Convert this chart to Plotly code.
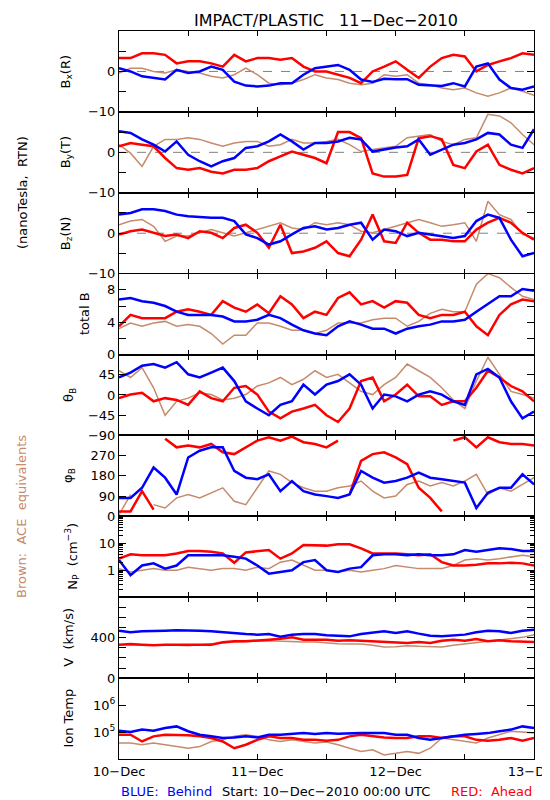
import plotly.graph_objects as go
from plotly.subplots import make_subplots

# ---------------- data (2-hourly estimates) ----------------
HOURS = [0, 2, 4, 6, 8, 10, 12, 14, 16, 18, 20, 22, 24, 26, 28, 30, 32, 34, 36,
         38, 40, 42, 44, 46, 48, 50, 52, 54, 56, 58, 60, 62, 64, 66, 68, 70, 72]

DAY_TICKS = [0, 12, 24, 36, 48, 60, 72]
DAY_LABELS = ["10\u2212Dec", "", "11\u2212Dec", "", "12\u2212Dec", "", "13\u2212Dec"]

BX_BEHIND = [0.8, 0, -1.2, -1.6, -2, 0.4, -0.4, 0, 1.2, 0.4, -2.5, -3.5, -3.7, -3.5, -2.9, -2.9, -0.8, 0.8, 1.2,
             1.6, 0.4, -2, -2.6, -1.8, -1.9, -1.9, -3.3, -3.4, -3.6, -2.9, -3.7, 1.2, 2, -2, -4.1, -4.5, -3.7]
BX_AHEAD = [3.3, 3.3, 4.5, 4.5, 4.1, 2, 2.5, 2.5, 2, 1.2, 4.1, 2.5, 3.3, 3.3, 2.9, 3.3, 1.2, 0, 0,
            -0.8, -1.6, -2.9, 0, 1.2, 2.5, 0.4, -1.6, 1.2, 3.3, 4.1, 3.7, 0, 1.6, 2.5, 3.3, 4.5, 4.1]
BX_ACE = [-0.4, 0.8, 0.8, 0, -0.4, 0.4, 0, -0.4, -1.2, -1.6, -0.8, 0.8, -0.8, -2.9, -3.3, -2.9, -2, -0.8, -1.6,
          -2, -2.9, -3.3, -2.9, -0.8, -1.2, -0.8, -2.9, -3.3, -4.1, -4.5, -4.1, -5.3, -6.1, -5.3, -4.1, -4.9, -5.9]

BY_BEHIND = [5.2, 4.8, 3.2, 1.9, 0.2, 2.7, -0.6, -2.2, -3.5, -2.2, -1.4, 1.1, 1.5, 2.7, 4.4, 2.7, 0.7, 2.3, 2.3,
             2.7, 3.6, 3.2, 0.2, 0.7, 1.2, 1.5, 3.2, -0.6, 0.7, 1.9, 2.3, 3.2, 4.8, 4.4, 1.9, 1.1, 5.7]
BY_AHEAD = [1.5, 2.3, 1.9, 1.5, -1.4, -3.9, -4.3, -3.9, -4.8, -5.2, -4.3, -4.3, -3.9, -2.2, -1, 0.2, -0.6, -1.4, -2.7,
            5, 5, 3.5, -5.2, -6, -6, -5.6, 3.5, 4, 3.2, -3.1, -3.9, 0.2, 1.9, -3.1, -4.3, -5.2, -3.9]
BY_ACE = [1.9, -0.2, -3.5, 1.5, 3.2, 3.2, 3.6, 3.2, 2.3, 1.5, 2.3, 2.7, 2.7, 1.5, 1.9, 3.2, 2.3, 2.3, 2.7,
          3.2, 1.9, 0.2, 0.7, 1.1, 1.5, 3.6, 4, 4.4, 2.7, 1.9, 3.2, 3.6, 9.4, 9, 7.3, 4.4, 1.9]

BZ_BEHIND = [4.6, 5, 5.9, 5.9, 5.5, 4.6, 4.2, 4, 3.8, 3.8, 3, -0.3, -1.2, -2.8, -2, -0.3, 1.3, 1.7, 0.9,
             1.3, 2.1, 2.6, -1.6, 0.9, 0.5, -0.7, 0.1, -0.3, -0.7, -1.2, -0.7, 3, 4.6, 3.8, -1.6, -5.7, -4.9]
BZ_AHEAD = [-0.3, 0.5, 0.9, 0.1, -0.7, -0.3, -1.2, 0.5, 0.1, -1.2, 1.3, 2.1, 0.1, -3.6, 2.1, -4.9, -4.5, -3.6, -2,
            -4.9, -5.7, -1.6, 4.6, -2, -2.4, 2.6, 0.1, -1.6, -1.6, -2, -2, 0.9, 2.6, 3.8, 2.6, 0.1, -1.6]
BZ_ACE = [2.1, 3, 3.4, 1.7, -2, -0.7, -0.7, 0.1, 0.9, 0.1, -0.7, 0.1, 0.9, 1.7, 2.6, 1.3, 0.9, 2.6, 2.1,
          2.6, 2.1, 0.5, 0.1, 0.9, 1.7, 2.6, 3.4, 2.6, 1.7, 2.1, 2.6, -2, 7.9, 4.6, 3.4, -0.3, -1.2]

BT_BEHIND = [6.8, 7, 6.6, 6.4, 6, 5.3, 4.9, 4.9, 4.9, 4.7, 4.1, 4.1, 4.3, 4.9, 4.5, 3.7, 3, 2.6, 2.4,
             3.5, 4.1, 3.7, 3.2, 3.2, 2.6, 3.2, 3.5, 3.7, 4.1, 4.1, 4.3, 5.3, 6.2, 7.2, 7.2, 8.1, 7.9]
BT_AHEAD = [3.5, 4.9, 4.5, 4.5, 4.5, 5.3, 5.6, 5.3, 4.9, 6.6, 5.8, 5.3, 6.2, 5.1, 7.2, 6.2, 4.5, 5.3, 4.9,
            7, 7.7, 6.2, 6.6, 5.8, 6.6, 6.4, 4.9, 4.5, 4.9, 4.9, 5.3, 3.5, 2.4, 4.9, 6.2, 6.8, 6.6]
BT_ACE = [3.2, 3.9, 3.5, 3.9, 4.1, 3.5, 3.7, 3.5, 2.6, 1.3, 2.4, 2.4, 3.9, 3.9, 3.5, 3, 3, 2.6, 3,
          3.9, 3.9, 3.9, 4.3, 4.5, 4.5, 3.5, 4.1, 5.1, 5.6, 5.3, 5.3, 8.7, 10, 9.5, 8.3, 7.2, 6.8]

THETA_BEHIND = [39, 50, 65, 69, 61, 73, 46, 39, 50, 61, 31, -14, -30, -45, -22, -14, 23, 1, 23,
                31, 46, 23, -30, 1, -3, -14, 1, 8, 1, -14, -22, 46, 58, 39, -14, -52, -37]
THETA_AHEAD = [-7, 1, 5, -14, -7, -11, -22, 8, -7, -14, 16, 20, 1, -37, -52, -37, -30, -22, -45,
               -60, -30, 31, 39, -14, 1, 23, -3, -3, -22, -14, -14, 16, 54, 39, 20, 8, -14]
THETA_ACE = [54, 39, 61, 16, -45, -14, -7, 5, 1, -11, -7, 1, 20, 27, 39, 23, 35, 54, 39,
             46, 27, 8, 1, 23, 39, 69, 54, 39, 16, -11, -30, 31, 84, 46, 8, 1, -7]

PHI_BEHIND = [82, 82, 127, 217, 172, 97, 262, 292, 307, 307, 202, 172, 165, 187, 112, 157, 112, 97, 90,
              82, 97, 202, 172, 150, 157, 172, 195, 172, 165, 157, 150, 37, 105, 127, 127, 187, 142]
PHI_AHEAD = [22, 22, 112, 30, 345, 307, 315, 307, 322, 285, 277, 307, 337, 352, 337, 355, 330, 322, 307,
             337, 97, 247, 277, 285, 262, 232, 127, 82, 22, 337, 352, 307, 352, 330, 322, 322, 315]
PHI_ACE = [7, 97, 300, 52, 37, 82, 97, 82, 105, 127, 67, 52, 127, 202, 187, 150, 127, 112, 112,
           127, 135, 157, 112, 82, 90, 142, 157, 135, 150, 135, 157, 187, 97, 127, 112, 142, 172]

NP_BEHIND = [2.4, 0.65, 1.5, 1.8, 1.15, 1.5, 3.6, 3.6, 3.6, 3.6, 3.2, 2.7, 1.5, 0.75, 0.87, 1, 2, 2.4, 1,
             0.87, 1.15, 1.3, 3.6, 3.9, 3.9, 3.6, 3.9, 3.6, 3.6, 3.9, 5.6, 4.9, 5.6, 6.5, 6.1, 5.2, 5.2]
NP_AHEAD = [2.7, 3.9, 3.6, 3.6, 3.6, 4.2, 5.2, 5.2, 4.9, 4.2, 1.9, 4.6, 5.2, 5.6, 2.7, 4.2, 8.7, 8.7, 8.2,
            9.2, 9.2, 6.5, 4.2, 4.2, 4.2, 3.9, 3.6, 3.9, 2, 1.5, 1.5, 1.6, 1.8, 1.8, 1.9, 1.8, 1.5]
NP_ACE = [1.15, 0.87, 1, 1.15, 1, 1, 1.3, 1.15, 1, 1.15, 1.15, 1, 1.3, 1.15, 2, 2.4, 1.5, 1, 1,
          0.87, 1, 0.87, 1, 1.15, 1.5, 1.3, 1.15, 1.15, 1.15, 1.5, 2.4, 2.7, 2.4, 2.7, 3.2, 3.6, 3.2]

V_BEHIND = [469, 453, 463, 463, 469, 473, 473, 469, 463, 453, 440, 436, 430, 436, 410, 430, 436, 436, 423,
            417, 413, 436, 453, 463, 446, 463, 440, 420, 413, 420, 430, 453, 469, 463, 446, 469, 479]
V_AHEAD = [331, 337, 331, 324, 331, 331, 337, 337, 331, 354, 364, 364, 370, 380, 390, 403, 380, 380, 380,
           370, 374, 370, 364, 357, 357, 347, 357, 347, 370, 380, 370, 387, 364, 374, 364, 357, 357]
V_ACE = [331, 324, 324, 324, 331, 324, 321, 331, 337, 347, 357, 364, 364, 370, 364, 364, 357, 357, 347,
         340, 337, 337, 324, 307, 311, 321, 314, 314, 307, 324, 337, 357, 364, 380, 390, 403, 430]

T_BEHIND = [112000, 100000, 123000, 112000, 141000, 162000, 107000, 79400, 69200, 60300, 63100, 69200, 63100,
            79400, 79400, 85100, 91200, 85100, 91200, 87100, 91200, 91200, 91200, 91200, 79400, 79400, 60300,
            51300, 60300, 69200, 79400, 85100, 91200, 107000, 123000, 162000, 141000]
T_AHEAD = [79400, 79400, 44700, 69200, 79400, 79400, 75900, 69200, 60300, 44700, 25100, 33900, 51300,
           69200, 60300, 60300, 51300, 51300, 47900, 51300, 69200, 79400, 69200, 63100, 60300, 60300, 69200,
           69200, 60300, 69200, 69200, 51300, 47900, 51300, 60300, 47900, 60300]
T_ACE = [38900, 38900, 33900, 38900, 33900, 28800, 25100, 28800, 44700, 51300, 69200, 79400, 69200,
         51300, 44700, 51300, 44700, 38900, 42700, 33900, 25100, 19100, 21900, 14100, 16200, 19100, 16200,
         25100, 60300, 51300, 44700, 38900, 60300, 79400, 107000, 100000, 91200]

# ---------------- styling ----------------
BLUE = "#0000ff"
RED = "#ff0000"
BROWN = "#c68a6c"
FONT = "DejaVu Sans"
MINUS = "\u2212"

W, H = 550, 800
L, R, T, B = 111, 24, 23, 49
PW = W - L - R
PH = H - T - B


def break_wraps(xs, ys, limit):
    """Split an angle series where it wraps around (jump larger than limit)."""
    ox, oy = [], []
    for k, (x, y) in enumerate(zip(xs, ys)):
        if k > 0 and abs(y - ys[k - 1]) > limit:
            ox.append(None)
            oy.append(None)
        ox.append(x)
        oy.append(y)
    return ox, oy


panels = [
    dict(title="B<sub>x</sub>(R)", ace=BX_ACE, ahead=BX_AHEAD, behind=BX_BEHIND, tx=58,
         y=dict(range=[-10, 10], tickvals=[-10, -5, 0, 5, 10], ticktext=[MINUS + "10", "", "0", "", ""]), zero=True),
    dict(title="B<sub>y</sub>(T)", ace=BY_ACE, ahead=BY_AHEAD, behind=BY_BEHIND, tx=58,
         y=dict(range=[-10, 10], tickvals=[-10, -5, 0, 5, 10], ticktext=[MINUS + "10", "", "0", "", ""]), zero=True),
    dict(title="B<sub>z</sub>(N)", ace=BZ_ACE, ahead=BZ_AHEAD, behind=BZ_BEHIND, tx=58,
         y=dict(range=[-10, 10], tickvals=[-10, -5, 0, 5, 10], ticktext=[MINUS + "10", "", "0", "", ""]), zero=True),
    dict(title="total B", ace=BT_ACE, ahead=BT_AHEAD, behind=BT_BEHIND, tx=76,
         y=dict(range=[0, 10], tickvals=[0, 2, 4, 6, 8, 10], ticktext=["0", "", "4", "", "8", ""]), zero=False),
    dict(title="\u03b8<sub>B</sub>", ace=THETA_ACE, ahead=THETA_AHEAD, behind=THETA_BEHIND, tx=61,
         y=dict(range=[-90, 90], tickvals=[-90, -45, 0, 45, 90],
                ticktext=[MINUS + "90", MINUS + "45", "0", "45", ""]), zero=False),
    dict(title="\u03c6<sub>B</sub>", ace=PHI_ACE, ahead=PHI_AHEAD, behind=PHI_BEHIND, tx=61, wrap=True,
         y=dict(range=[0, 360], tickvals=[0, 90, 180, 270, 360], ticktext=["0", "90", "180", "270", ""]), zero=False),
    dict(title="N<sub>P</sub>  (cm<sup>" + MINUS + "3</sup>)", ace=NP_ACE, ahead=NP_AHEAD, behind=NP_BEHIND, tx=64,
         y=dict(type="log", range=[-1, 2], tickvals=[0.1, 1, 10, 100], ticktext=["", "1", "10", ""],
                minor=dict(ticks="inside", ticklen=4, tickcolor="black",
                           tickvals=[0.2, 0.3, 0.4, 0.5, 0.6, 0.7, 0.8, 0.9, 2, 3, 4, 5, 6, 7, 8, 9,
                                     20, 30, 40, 50, 60, 70, 80, 90])), zero=False),
    dict(title="V  (km/s)", ace=V_ACE, ahead=V_AHEAD, behind=V_BEHIND, tx=61,
         y=dict(range=[0, 800], tickvals=[0, 100, 200, 300, 400, 500, 600, 700, 800],
                ticktext=["0", "", "", "", "400", "", "", "", ""]), zero=False),
    dict(title="Ion Temp", ace=T_ACE, ahead=T_AHEAD, behind=T_BEHIND, tx=61,
         y=dict(type="log", range=[4, 7], tickvals=[1e4, 1e5, 1e6, 1e7],
                ticktext=["", "10<sup>5</sup>", "10<sup>6</sup>", ""]), zero=False),
]

n = len(panels)
fig = make_subplots(rows=n, cols=1, shared_xaxes=True, vertical_spacing=0)

annotations = []
shapes = []
for i, p in enumerate(panels):
    row = i + 1
    for key, color, width in (("ace", BROWN, 1.5), ("ahead", RED, 2.5), ("behind", BLUE, 2.5)):
        xs, ys = HOURS, p[key]
        if p.get("wrap"):
            xs, ys = break_wraps(HOURS, p[key], 180)
        fig.add_trace(go.Scatter(x=xs, y=ys, mode="lines", connectgaps=False,
                                 line=dict(color=color, width=width), hoverinfo="skip"), row=row, col=1)

    yax = dict(ticks="inside", ticklen=7, tickwidth=1, tickcolor="black", showline=True,
               linecolor="black", linewidth=1, mirror="ticks", showgrid=False, zeroline=False,
               tickmode="array", tickfont=dict(family=FONT, size=13, color="black"), automargin=False)
    yax.update(p["y"])
    fig.update_yaxes(row=row, col=1, **yax)

    fig.update_xaxes(row=row, col=1, range=[0, 72], tickmode="array", tickvals=DAY_TICKS,
                     ticktext=DAY_LABELS, ticks="inside", ticklen=5, tickcolor="black",
                     showline=True, linecolor="black", linewidth=1, mirror="ticks",
                     showgrid=False, zeroline=False, showticklabels=(row == n),
                     ticklabeloverflow="allow",
                     tickfont=dict(family=FONT, size=13, color="black"), automargin=False)

    if p["zero"]:
        shapes.append(dict(type="line", xref="x" if row == 1 else "x%d" % row,
                           yref="y" if row == 1 else "y%d" % row,
                           x0=0, x1=72, y0=0, y1=0, layer="below",
                           line=dict(color="#808080", width=1, dash="dash")))

    annotations.append(dict(text=p["title"], xref="paper", yref="paper",
                            x=(p["tx"] - L) / PW, y=1 - (i + 0.5) / n, textangle=-90,
                            showarrow=False, xanchor="center", yanchor="middle",
                            font=dict(family=FONT, size=13, color="black")))


def px_x(px):
    return (px - L) / PW


def px_y(py):
    return 1 - (py - T) / PH


annotations += [
    dict(text="IMPACT/PLASTIC\u00a0\u00a0\u00a011\u2212Dec\u22122010", xref="paper", yref="paper",
         x=px_x(318), y=px_y(12), showarrow=False, xanchor="center", yanchor="middle",
         font=dict(family=FONT, size=16, color="black")),
    dict(text="(nanoTesla,\u00a0\u00a0RTN)", xref="paper", yref="paper",
         x=px_x(14), y=px_y(185), textangle=-90, showarrow=False, xanchor="center", yanchor="middle",
         font=dict(family=FONT, size=13, color="black")),
    dict(text="Brown:\u00a0\u00a0ACE\u00a0\u00a0equivalents", xref="paper", yref="paper",
         x=px_x(14), y=px_y(509), textangle=-90, showarrow=False, xanchor="center", yanchor="middle",
         font=dict(family=FONT, size=13, color=BROWN)),
    dict(text="BLUE:\u00a0\u00a0Behind", xref="paper", yref="paper",
         x=px_x(111), y=px_y(783), showarrow=False, xanchor="left", yanchor="middle",
         font=dict(family=FONT, size=13, color=BLUE)),
    dict(text="Start:\u00a010\u2212Dec\u22122010\u00a000:00\u00a0UTC", xref="paper", yref="paper",
         x=px_x(318), y=px_y(783), showarrow=False, xanchor="center", yanchor="middle",
         font=dict(family=FONT, size=13, color="black")),
    dict(text="RED:\u00a0\u00a0Ahead", xref="paper", yref="paper",
         x=px_x(526), y=px_y(783), showarrow=False, xanchor="right", yanchor="middle",
         font=dict(family=FONT, size=13, color=RED)),
]

fig.update_layout(width=W, height=H, margin=dict(l=L, r=R, t=T, b=B, autoexpand=False),
                  paper_bgcolor="white", plot_bgcolor="white", showlegend=False,
                  annotations=annotations, shapes=shapes,
                  font=dict(family=FONT, size=13, color="black"))

fig.write_html("out.html")
